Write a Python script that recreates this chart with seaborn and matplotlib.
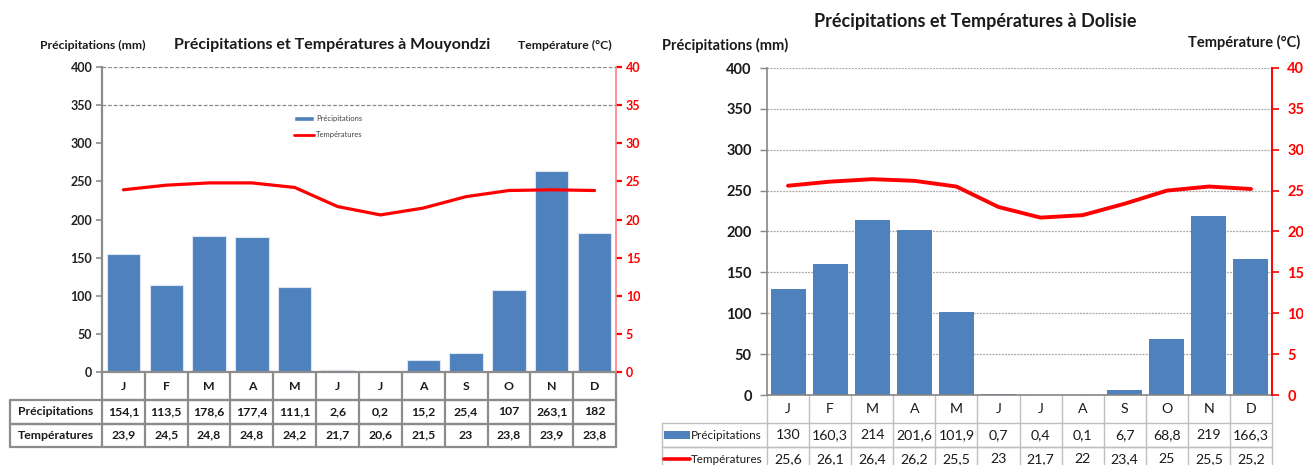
import numpy as np
import pandas as pd
import seaborn as sns
import matplotlib
matplotlib.use("Agg")
import matplotlib.pyplot as plt
from matplotlib.transforms import blended_transform_factory
from matplotlib.patches import Rectangle, Patch
from matplotlib.lines import Line2D

# ---- data ----
months = ["J", "F", "M", "A", "M", "J", "J", "A", "S", "O", "N", "D"]
mouyondzi_precip = [154.1, 113.5, 178.6, 177.4, 111.1, 2.6, 0.2, 15.2, 25.4, 107, 263.1, 182]
mouyondzi_temp = [23.9, 24.5, 24.8, 24.8, 24.2, 21.7, 20.6, 21.5, 23, 23.8, 23.9, 23.8]
dolisie_precip = [130, 160.3, 214, 201.6, 101.9, 0.7, 0.4, 0.1, 6.7, 68.8, 219, 166.3]
dolisie_temp = [25.6, 26.1, 26.4, 26.2, 25.5, 23, 21.7, 22, 23.4, 25, 25.5, 25.2]
precip_ticks = list(range(0, 401, 50))
temp_ticks = list(range(0, 41, 5))
mouyondzi_grid = [350, 400]

BLUE = "#4F81BD"
RED = "#FF0000"

sns.set_theme(style="white")
plt.rcParams["font.family"] = ["Lato", "DejaVu Sans"]

W, H = 1303, 465
fig = plt.figure(figsize=(W / 100, H / 100), dpi=100)


def fmt(v):
    return f"{v:g}".replace(".", ",")


def px_box(x0, x1, y_top, y_bot):
    return [x0 / W, 1 - y_bot / H, (x1 - x0) / W, (y_bot - y_top) / H]


def climate_axes(ax, precip, temp, bar_width, lw, edgecolor):
    idx = np.arange(len(months))
    df = pd.DataFrame({"m": idx, "p": precip, "t": temp})
    sns.barplot(data=df, x="m", y="p", ax=ax, color=BLUE, width=bar_width,
                saturation=1, edgecolor=edgecolor, linewidth=0.8, zorder=2)
    ax.set_xlim(-0.5, len(months) - 0.5)
    ax.set_ylim(0, 400)
    ax.set_yticks(precip_ticks)
    ax.set_xticks([])
    ax.set_xlabel("")
    ax.set_ylabel("")
    ax2 = ax.twinx()
    sns.lineplot(data=df, x="m", y="t", ax=ax2, color=RED, lw=lw, zorder=3)
    ax2.set_ylim(0, 40)
    ax2.set_yticks(temp_ticks)
    ax2.set_xlim(-0.5, len(months) - 0.5)
    ax2.set_xlabel("")
    ax2.set_ylabel("")
    return ax2


def draw_table(ax, rows, label_cols, row_h, edge, lw, fs, label_fs, weight,
               month_full_box, keys=None):
    tr = blended_transform_factory(ax.transData, ax.transAxes)
    n = len(months)
    xl = -0.5 - label_cols
    xr = n - 0.5
    tops = [0.0]
    for h in row_h:
        tops.append(tops[-1] - h)
    # month row
    for i in range(n + 1):
        ax.plot([i - 0.5, i - 0.5], [tops[0], tops[1]], color=edge, lw=lw,
                transform=tr, clip_on=False, zorder=1)
    if month_full_box:
        ax.plot([-0.5, xr], [tops[1], tops[1]], color=edge, lw=lw,
                transform=tr, clip_on=False)
    for i, m in enumerate(months):
        ax.text(i, (tops[0] + tops[1]) / 2, m, transform=tr, ha="center",
                va="center", fontsize=fs, fontweight=weight, color="#1a1a1a")
    # data rows
    for r, (label, vals) in enumerate(rows):
        y0, y1 = tops[r + 1], tops[r + 2]
        ym = (y0 + y1) / 2
        for yy in (y0, y1):
            ax.plot([xl, xr], [yy, yy], color=edge, lw=lw, transform=tr,
                    clip_on=False)
        for xx in [xl] + [i - 0.5 for i in range(n + 1)]:
            ax.plot([xx, xx], [y0, y1], color=edge, lw=lw, transform=tr,
                    clip_on=False)
        for i, v in enumerate(vals):
            ax.text(i, ym, fmt(v), transform=tr, ha="center", va="center",
                    fontsize=fs, fontweight=weight, color="#1a1a1a")
        if keys is None:
            ax.text((xl - 0.5) / 2, ym, label, transform=tr, ha="center",
                    va="center", fontsize=label_fs, fontweight=weight,
                    color="#1a1a1a")
        else:
            kx0, kx1 = xl + 0.05, xl + 0.66
            if keys[r] == "bar":
                ax.add_patch(Rectangle((kx0, ym - 0.011), kx1 - kx0, 0.022,
                                       transform=tr, clip_on=False,
                                       facecolor=BLUE, edgecolor="none"))
            else:
                ax.plot([kx0, kx1], [ym, ym], color=RED, lw=2.6, transform=tr,
                        clip_on=False)
            ax.text(kx1 + 0.03, ym, label, transform=tr, ha="left",
                    va="center", fontsize=label_fs, color="#1a1a1a")


# ================= Mouyondzi =================
axL = fig.add_axes(px_box(102, 616, 67, 372))
axL2 = climate_axes(axL, mouyondzi_precip, mouyondzi_temp, 0.78, 2.3, "#dce6f2")
for y in mouyondzi_grid:
    axL.axhline(y, color="#8a8a8a", lw=0.9, ls=(0, (3, 1.5)), zorder=0)
axL.spines["top"].set_visible(False)
axL2.spines["top"].set_visible(False)
axL.spines["left"].set_color("#8c8c8c")
axL.spines["left"].set_linewidth(1.6)
axL.spines["bottom"].set_color("#8c8c8c")
axL.spines["bottom"].set_linewidth(1.6)
axL.spines["right"].set_visible(False)
axL2.spines["left"].set_visible(False)
axL2.spines["bottom"].set_visible(False)
axL2.spines["right"].set_color("#ff8080")
axL2.spines["right"].set_linewidth(1.2)
axL.tick_params(axis="y", left=True, length=4, width=1.2, color="#8c8c8c",
                pad=3, labelsize=9, labelcolor="#222222")
axL2.tick_params(axis="y", right=True, length=4, width=1.6, color=RED,
                 pad=3, labelsize=9, labelcolor=RED)
for t in axL.get_yticklabels() + axL2.get_yticklabels():
    t.set_fontweight("bold")
axL2.legend(handles=[Patch(facecolor=BLUE, label="Précipitations"),
                     Line2D([], [], color=RED, lw=2, label="Températures")],
            loc="upper left", bbox_to_anchor=(0.36, 0.865), frameon=False,
            fontsize=5.5, handlelength=2.6, handleheight=0.6, labelspacing=1.2,
            handletextpad=0.3, labelcolor="#444444")
draw_table(axL,
           [("Précipitations", mouyondzi_precip), ("Températures", mouyondzi_temp)],
           label_cols=2.15, row_h=[28 / 305, 23.5 / 305, 23.5 / 305],
           edge="#8c8c8c", lw=1.6, fs=8.8, label_fs=8.8, weight="bold",
           month_full_box=True)

fig.text(40 / W, 1 - 45 / H, "Précipitations (mm)", ha="left", va="center",
         fontsize=8.8, fontweight="bold", color="#1a1a1a")
fig.text(332 / W, 1 - 45 / H, "Précipitations et Températures à Mouyondzi",
         ha="center", va="center", fontsize=11.5, fontweight="bold", color="#1a1a1a")
fig.text(612 / W, 1 - 45 / H, "Température (°C)", ha="right", va="center",
         fontsize=8.8, fontweight="bold", color="#1a1a1a")

# ================= Dolisie =================
axR = fig.add_axes(px_box(767, 1272, 68, 395))
axR2 = climate_axes(axR, dolisie_precip, dolisie_temp, 0.83, 2.8, "none")
axR.yaxis.grid(True, color="#a6a6a6", lw=0.9, ls=(0, (1.5, 1)), zorder=0)
axR.set_axisbelow(True)
axR.spines["top"].set_visible(False)
axR2.spines["top"].set_visible(False)
axR.spines["right"].set_visible(False)
axR.spines["left"].set_color("#868686")
axR.spines["left"].set_linewidth(1.2)
axR.spines["bottom"].set_color("#868686")
axR.spines["bottom"].set_linewidth(1.2)
axR2.spines["left"].set_visible(False)
axR2.spines["bottom"].set_visible(False)
axR2.spines["right"].set_color(RED)
axR2.spines["right"].set_linewidth(1.4)
axR.tick_params(axis="y", left=True, length=5, width=1, color="#868686",
                pad=6, labelsize=10.5, labelcolor="#1a1a1a")
axR2.tick_params(axis="y", right=True, length=5, width=1.2, color=RED,
                 pad=6, labelsize=10.5, labelcolor=RED)
for t in axR.get_yticklabels() + axR2.get_yticklabels():
    t.set_fontweight("bold")
draw_table(axR,
           [("Précipitations", dolisie_precip), ("Températures", dolisie_temp)],
           label_cols=2.49, row_h=[28 / 327, 24 / 327, 24 / 327],
           edge="#bfbfbf", lw=1.0, fs=10.2, label_fs=8.4, weight="normal",
           month_full_box=False, keys=["bar", "line"])

fig.text(975 / W, 1 - 22 / H, "Précipitations et Températures à Dolisie",
         ha="center", va="center", fontsize=13, fontweight="bold", color="#1a1a1a")
fig.text(662 / W, 1 - 45 / H, "Précipitations (mm)", ha="left", va="center",
         fontsize=10.5, fontweight="bold", color="#1a1a1a")
fig.text(1300 / W, 1 - 42 / H, "Température (°C)", ha="right", va="center",
         fontsize=10.5, fontweight="bold", color="#1a1a1a")

fig.savefig("out.png", dpi=100)
